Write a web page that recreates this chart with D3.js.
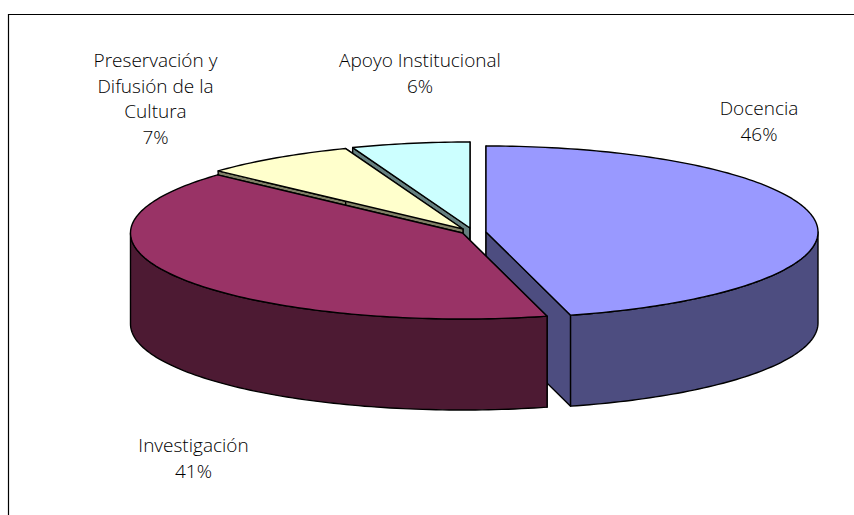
<!DOCTYPE html>
<html><head><meta charset="utf-8">
<style>html,body{margin:0;padding:0;background:#fff}svg{display:block}text{font-family:"Open Sans",sans-serif;font-size:19px;font-weight:300;fill:#000}</style>
<script src="https://cdn.jsdelivr.net/npm/d3@7/dist/d3.min.js"></script></head><body>
<svg id="c" width="854" height="515"></svg>
<script>
const categories = ["Docencia","Investigación","Preservación y Difusión de la Cultura","Apoyo Institucional"];
const values = [45.9,40.9,7.45,5.75];
const labelLines = [["Docencia"],["Investigación"],["Preservación y","Difusión de la","Cultura"],["Apoyo Institucional"]];
const topColors = ["#9999ff","#993366","#ffffcc","#ccffff"];
const sideColors = ["#4d4d80","#4d1a33","#808066","#668080"];

const W=854,H=515, RX=332, RY=86, DEPTH=91;
const centers=[[486,232],[462.5,233],[463,229],[470,228]];
const labelPos=[[759,115],[193.5,452],[155.5,67],[420,67]];
const svg=d3.select("#c");
svg.append("path").attr("d","M8.5,515V14.5H854").attr("fill","none").attr("stroke","#000").attr("stroke-width",1.2);

const pie=d3.pie().sort(null).value(d=>d)(values);
const sx=d3.scaleLinear().domain([-1,1]).range([-RX,RX]);
const sy=d3.scaleLinear().domain([-1,1]).range([-RY,RY]);
const pt=(i,a,dz=0)=>[centers[i][0]+sx(Math.sin(a)),centers[i][1]-sy(Math.cos(a))+dz];
function arcPts(i,a0,a1,dz=0){const n=Math.max(2,Math.ceil((a1-a0)/0.02)),o=[];
  d3.range(n+1).forEach(k=>o.push(pt(i,a0+(a1-a0)*k/n,dz)));return o;}
const line=d3.line();
const SW=1.4;
function draw(i){
  const s=pie[i],c=centers[i],a0=s.startAngle,a1=s.endAngle;
  const g=svg.append("g").attr("stroke","#000").attr("stroke-width",SW).attr("stroke-linejoin","round");
  [a0,a1].forEach(a=>{
    const p=pt(i,a);
    g.append("path").attr("fill",sideColors[i]).attr("d",line([c,p,[p[0],p[1]+DEPTH],[c[0],c[1]+DEPTH]])+"Z");
  });
  const v0=Math.max(a0,Math.PI/2),v1=Math.min(a1,3*Math.PI/2);
  if(v1>v0){
    const t=arcPts(i,v0,v1),b=arcPts(i,v0,v1,DEPTH).reverse();
    g.append("path").attr("fill",sideColors[i]).attr("d",line(t.concat(b))+"Z");
  }
  g.append("path").attr("fill",topColors[i]).attr("d",line([c].concat(arcPts(i,a0,a1)))+"Z");
}
[3,2,0,1].forEach(draw);

labelLines.forEach((ls,i)=>{
  const t=svg.append("text").attr("text-anchor","middle");
  ls.concat([d3.format(".0f")(values[i])+"%"]).forEach((l,k)=>{
    t.append("tspan").attr("x",labelPos[i][0]).attr("y",labelPos[i][1]+k*25.6).text(l);
  });
});
</script></body></html>
